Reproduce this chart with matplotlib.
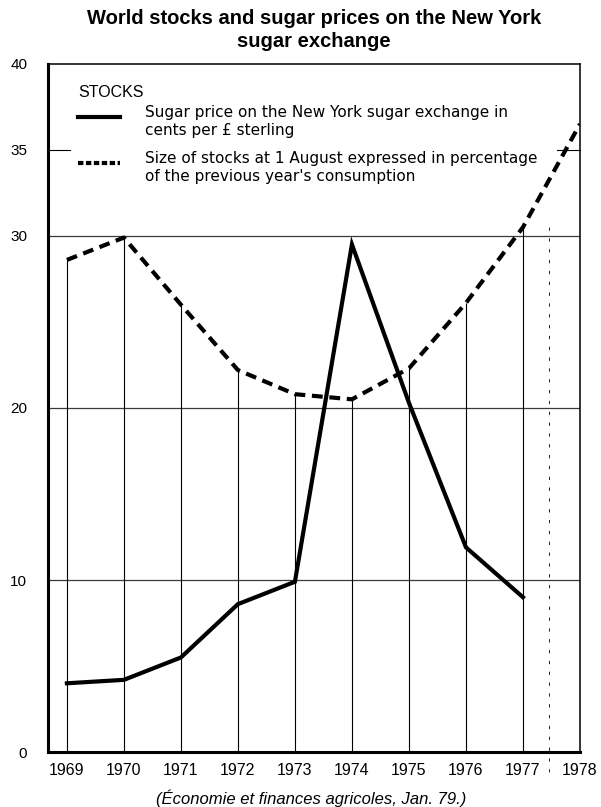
import matplotlib.pyplot as plt

plt.rcParams['font.family'] = ['Liberation Sans', 'DejaVu Sans']

# data
years = [1969, 1970, 1971, 1972, 1973, 1974, 1975, 1976, 1977, 1978]
stocks = [28.6, 29.9, 26.0, 22.2, 20.8, 20.5, 22.3, 26.1, 30.5, 36.5]
price_years = [1969, 1970, 1971, 1972, 1973, 1974, 1975, 1976, 1977]
price = [4.0, 4.2, 5.5, 8.6, 9.9, 29.5, 20.3, 11.9, 9.0]

y_ticks = [0, 10, 20, 30, 35, 40]
grid_y = [10, 20, 30]

title = 'World stocks and sugar prices on the New York\nsugar exchange'
legend_head = 'STOCKS'
price_label = 'Sugar price on the New York sugar exchange in\ncents per £ sterling'
stock_label = "Size of stocks at 1 August expressed in percentage\nof the previous year's consumption"
source = '(Économie et finances agricoles, Jan. 79.)'

fig = plt.figure(figsize=(6.01, 8.07), dpi=100)
ax = fig.add_axes([0.080, 0.068, 0.885, 0.853])

ax.set_xlim(1968.67, 1978)
ax.set_ylim(0, 40)

# grid: horizontals full width, verticals only up to the stocks curve
for g in grid_y:
    ax.axhline(g, color='#3a3a3a', lw=0.9, zorder=1)
ax.vlines(years, 0, stocks, color='black', lw=0.8, zorder=1)

# short marks at 35
ax.plot([1968.67, 1969.05], [35, 35], color='black', lw=0.8, clip_on=False)
ax.plot([1977.6, 1978], [35, 35], color='black', lw=0.8, clip_on=False)

# broken vertical near 1977 (as in the print)
ax.plot([1977.45, 1977.45], [30.5, -1.2], color='black', lw=0.6,
        dashes=(4, 9), clip_on=False, zorder=1)

ax.plot(price_years, price, color='black', lw=3.0, solid_joinstyle='miter', zorder=3)
ax.plot(years, stocks, color='black', lw=3.0, dashes=(2.6, 1.6), zorder=3)

for side, w in [('left', 2.2), ('bottom', 2.2), ('top', 1.1), ('right', 1.1)]:
    ax.spines[side].set_linewidth(w)

ax.set_yticks(y_ticks)
ax.set_yticklabels([str(t) for t in y_ticks])
ax.set_xticks(years)
ax.set_xticklabels([str(y) for y in years])
ax.tick_params(axis='y', length=0, pad=15, labelsize=11)
ax.tick_params(axis='x', length=0, pad=8, labelsize=11.5)

# legend drawn inside the frame
ax.text(0.056, 0.958, legend_head, transform=ax.transAxes, fontsize=11.5,
        va='center', ha='left')
ax.plot([0.056, 0.135], [0.923, 0.923], transform=ax.transAxes, color='black', lw=3.0)
ax.plot([0.056, 0.135], [0.856, 0.856], transform=ax.transAxes, color='black', lw=3.0,
        dashes=(1.3, 0.6))
ax.text(0.182, 0.940, price_label, transform=ax.transAxes, fontsize=11,
        va='top', ha='left', linespacing=1.25, family=['DejaVu Sans'])
ax.text(0.182, 0.873, stock_label, transform=ax.transAxes, fontsize=11,
        va='top', ha='left', linespacing=1.25, family=['DejaVu Sans'])

fig.text(0.522, 0.989, title, ha='center', va='top', fontsize=14.5,
         fontweight='bold', linespacing=1.3)
fig.text(0.517, 0.011, source, ha='center', va='center', fontsize=12,
         style='italic')

plt.savefig('out.png', dpi=100)
plt.close()
